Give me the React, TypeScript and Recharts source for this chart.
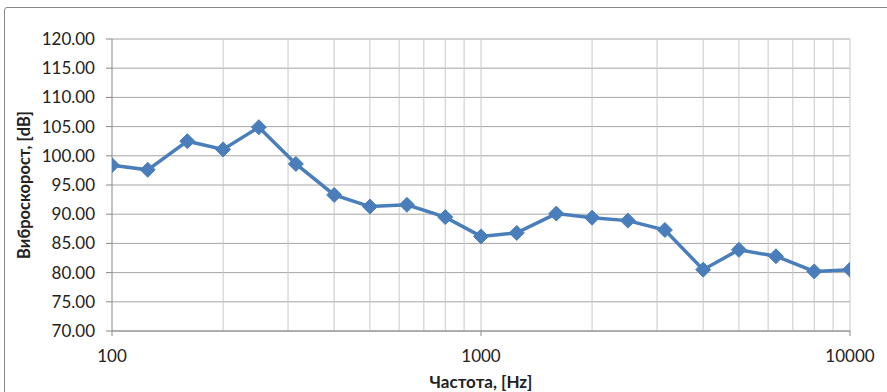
import React from "react";
import {
  LineChart,
  Line,
  XAxis,
  YAxis,
  CartesianGrid,
  ReferenceLine,
} from "recharts";

// 1/3-octave centre frequencies, Hz
const frequencies = [
  100, 125, 160, 200, 250, 315, 400, 500, 630, 800, 1000, 1250, 1600, 2000,
  2500, 3150, 4000, 5000, 6300, 8000, 10000,
];
// vibration velocity level, dB
const levels = [
  98.4, 97.6, 102.5, 101.1, 104.9, 98.6, 93.3, 91.3, 91.6, 89.5, 86.2, 86.8,
  90.1, 89.4, 88.9, 87.3, 80.5, 83.9, 82.8, 80.2, 80.5,
];
const xTicks = [100, 1000, 10000];
const xGrid = [
  200, 300, 400, 500, 600, 700, 800, 900, 1000, 2000, 3000, 4000, 5000, 6000,
  7000, 8000, 9000, 10000,
];
const yTicks = [70, 75, 80, 85, 90, 95, 100, 105, 110, 115, 120];

const data = frequencies.map((f, i) => ({ f, v: levels[i] }));

const BLUE = "#4a7ebb";
const FONT = "Lato, 'Open Sans', sans-serif";

const Diamond = (props: any) => {
  const { cx, cy } = props;
  if (cx == null || cy == null) return null;
  const r = 7.5;
  return (
    <polygon
      points={`${cx},${cy - r} ${cx + r},${cy} ${cx},${cy + r} ${cx - r},${cy}`}
      fill={BLUE}
      stroke={BLUE}
      strokeWidth={1}
    />
  );
};

const App: React.FC = () => {
  return (
    <div
      style={{
        position: "absolute",
        left: 0,
        top: 0,
        width: 887,
        height: 392,
        overflow: "hidden",
        background: "#fff",
      }}
    >
      <div
        style={{
          position: "absolute",
          left: 4,
          top: 7,
          width: 900,
          height: 400,
          border: "1px solid #888",
          borderRadius: 3,
        }}
      />
      <LineChart
        width={887}
        height={392}
        data={data}
        margin={{ top: 39, right: 37, left: 10, bottom: 0 }}
        style={{ position: "absolute", left: 0, top: 0 }}
      >
        <CartesianGrid vertical={false} stroke="#a6a6a6" />
        {xGrid.map((g) => (
          <ReferenceLine key={g} x={g} stroke="#c8c8c8" strokeWidth={1} />
        ))}
        <XAxis
          dataKey="f"
          type="number"
          scale="log"
          domain={[100, 10000]}
          ticks={xTicks}
          height={61}
          tickSize={5}
          tickMargin={14}
          stroke="#888"
          tick={{ fill: "#222", fontSize: 17, fontFamily: FONT }}
          allowDataOverflow
          label={{
            value: "Частота, [Hz]",
            position: "insideBottom",
            offset: 4,
            style: {
              fill: "#222",
              fontSize: 17,
              fontWeight: 700,
              fontFamily: FONT,
            },
          }}
        />
        <YAxis
          type="number"
          domain={[70, 120]}
          ticks={yTicks}
          width={102}
          tickSize={6}
          tickMargin={11}
          stroke="#888"
          tickFormatter={(v: number) => v.toFixed(2)}
          tick={{ fill: "#222", fontSize: 17, fontFamily: FONT }}
          label={{
            value: "Виброскорост, [dB]",
            angle: -90,
            position: "insideLeft",
            offset: 14,
            style: {
              textAnchor: "middle",
              fill: "#222",
              fontSize: 16.5,
              fontWeight: 700,
              fontFamily: FONT,
            },
          }}
        />
        <Line
          dataKey="v"
          stroke={BLUE}
          strokeWidth={3.5}
          dot={<Diamond />}
          activeDot={false}
          isAnimationActive={false}
        />
      </LineChart>
    </div>
  );
};

export default App;
